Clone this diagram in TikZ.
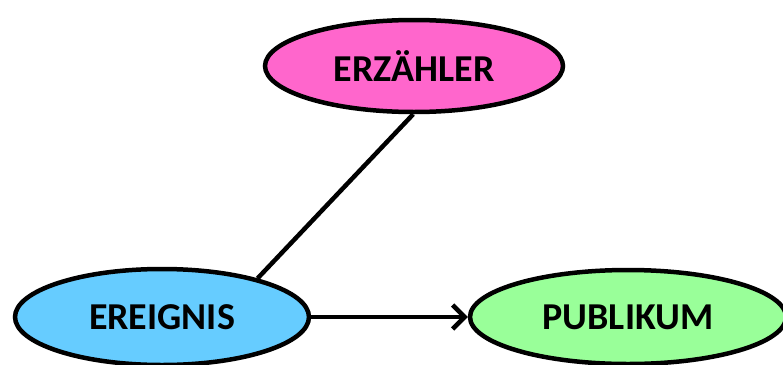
\documentclass[tikz,border=0pt]{standalone}
\usepackage{fontspec}
\setmainfont{Carlito}
\usetikzlibrary{shapes.geometric,arrows.meta}
\definecolor{erzpink}{HTML}{FF66CC}
\definecolor{ereblue}{HTML}{66CCFF}
\definecolor{pubgreen}{HTML}{99FF99}
\tikzset{
  bubble/.style={ellipse, draw=black, line width=4.5pt, inner sep=0pt,
    font=\fontsize{38}{40}\selectfont\bfseries},
  link/.style={draw=black, line width=4.5pt},
}
\begin{document}
\begin{tikzpicture}[x=1pt,y=-1pt]
  \clip (0,0) rectangle (783,364);
  \useasboundingbox (0,0) rectangle (783,364);
  \node[bubble, fill=erzpink, minimum width=298pt, minimum height=92pt] (erz) at (414,66) {ERZÄHLER};
  \node[bubble, fill=ereblue, minimum width=294pt, minimum height=96pt] (ere) at (162,317) {EREIGNIS};
  \node[bubble, fill=pubgreen, minimum width=316pt, minimum height=94pt] (pub) at (628,317) {PUBLIKUM};
  \draw[link] (erz.-91) -- (ere.22);
  \draw[link, -{Straight Barb[length=12pt,width=24pt,line width=4.5pt]}] (ere.east) -- (pub.west);
\end{tikzpicture}
\end{document}
